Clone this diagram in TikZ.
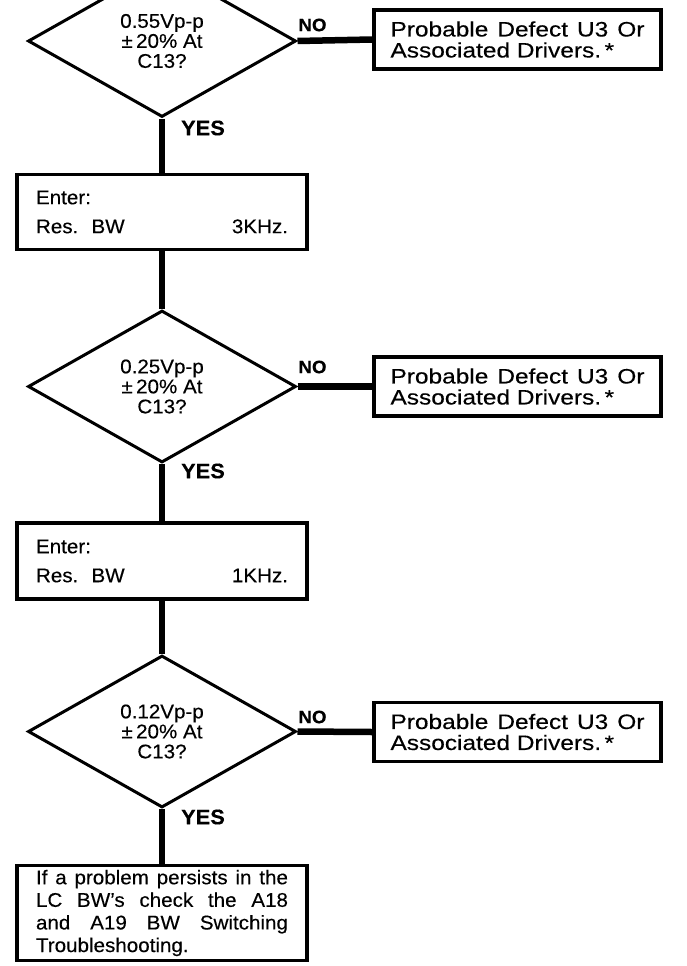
\documentclass[tikz,border=0pt]{standalone}
\usepackage{fontspec}
\setmainfont[FakeStretch=1.04,FakeBold=0.3]{Liberation Sans}
\newfontfamily\faultfont[FakeStretch=1.17,FakeBold=0.3]{Liberation Sans}
\usetikzlibrary{shapes.geometric}
\setlength{\parindent}{0pt}

\begin{document}
\begin{tikzpicture}[
  x=1pt, y=-1pt,
  decision/.style={draw, diamond, line width=3pt, minimum width=268pt, minimum height=152pt,
                   inner sep=0pt, align=center, font=\fontsize{19.8}{20}\selectfont},
  fault/.style={draw, line width=3.5pt, minimum width=287pt, minimum height=59pt, inner sep=0pt,
                text width=254pt, align=justify, font=\faultfont\fontsize{20.9}{21}\selectfont},
  entry/.style={draw, line width=3.5pt, minimum width=290pt, inner sep=0pt,
                text width=252pt, font=\fontsize{19.8}{29}\selectfont},
  answer/.style={font=\bfseries\fontsize{#1}{#1}\selectfont},
  answer/.default=18,
  flow/.style={line width=6.5pt},
]

\clip (0,0) rectangle (687,966);
\fill[white] (0,0) rectangle (687,966);

\node[decision] (q1) at (162, 41) {0.55Vp-p\\±\,20\% At\\C13?};
\node[fault]    (fault1) at (517.5, 39.5) {Probable Defect U3 Or\linebreak Associated Drivers.\,*};
\node[answer]   (no1) at (312.5, 25) {NO};
\node[answer=21] (yes1) at (203, 128) {YES};

\node[entry, minimum height=75pt] (enter1) at (162, 212)
  {Enter:\\Res.\ \ BW\hskip 0pt plus 1filll 3KHz.};

\node[decision] (q2) at (162, 386.5) {0.25Vp-p\\±\,20\% At\\C13?};
\node[fault]    (fault2) at (517.5, 386.5) {Probable Defect U3 Or\linebreak Associated Drivers.\,*};
\node[answer]   (no2) at (312.5, 367) {NO};
\node[answer=21] (yes2) at (203, 471) {YES};

\node[entry, minimum height=76pt] (enter2) at (162, 561)
  {Enter:\\Res.\ \ BW\hskip 0pt plus 1filll 1KHz.};

\node[decision] (q3) at (162, 731.5) {0.12Vp-p\\±\,20\% At\\C13?};
\node[fault]    (fault3) at (517.5, 732) {Probable Defect U3 Or\linebreak Associated Drivers.\,*};
\node[answer]   (no3) at (312.5, 717) {NO};
\node[answer=21] (yes3) at (203, 817) {YES};

\node[entry, minimum height=95pt, align=justify, font=\fontsize{19.8}{22.6}\selectfont] (final) at (162, 913)
  {If a problem persists in the\linebreak LC BW’s check the A18\linebreak
   and A19 BW Switching\linebreak Troubleshooting.};

\draw[flow] (q1.east) -- (fault1.west);
\draw[flow] (q1.south) -- (enter1.north);
\draw[flow] (enter1.south) -- (q2.north);
\draw[flow] (q2.east) -- (fault2.west);
\draw[flow] (q2.south) -- (enter2.north);
\draw[flow] (enter2.south) -- (q3.north);
\draw[flow] (q3.east) -- (fault3.west);
\draw[flow] (q3.south) -- (final.north);

\end{tikzpicture}
\end{document}
